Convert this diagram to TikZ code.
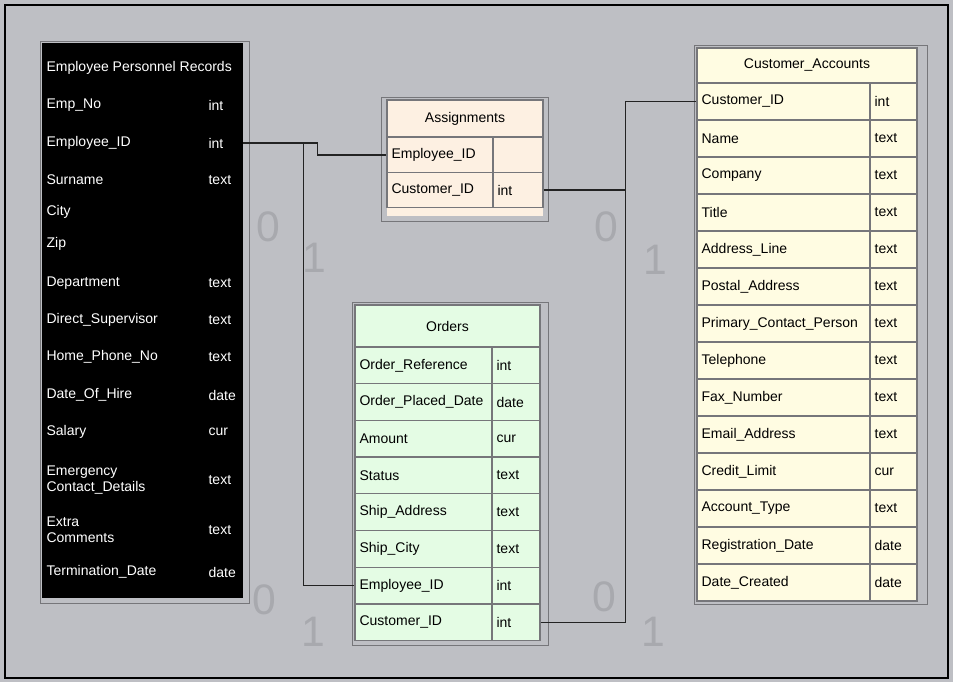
\documentclass[tikz,border=0pt]{standalone}
\usepackage{fontspec}
\setmainfont{Liberation Sans}
\usetikzlibrary{positioning,calc}
\definecolor{cfondo}{RGB}{190,191,196}
\definecolor{cdurazno}{RGB}{253,240,226}
\definecolor{cmenta}{RGB}{228,252,228}
\definecolor{ccrema}{RGB}{255,252,226}
\definecolor{cborde}{RGB}{118,118,122}
\definecolor{clinea}{RGB}{35,35,35}
\definecolor{cfantasma}{RGB}{168,169,174}
\tikzset{
  fila/.style={rectangle, draw=cborde, line width=0.9pt, inner sep=0pt},
  cabecera/.style={rectangle, draw=cborde, line width=0.9pt, inner sep=0pt,
    font=\fontsize{10.5}{12}\selectfont},
  campo/.style={anchor=west, inner sep=1pt, align=left,
    font=\fontsize{10.5}{12}\selectfont},
  campob/.style={campo, text=white},
  divisor/.style={draw=cborde, line width=0.9pt},
  marco/.style={draw=cborde, line width=0.6pt},
  union/.style={draw=clinea, line width=1pt},
  card/.style={font=\fontsize{32}{34}\selectfont, text=cfantasma, inner sep=0pt},
}
\begin{document}
\begin{tikzpicture}[x=0.75pt, y=-0.75pt]
  \useasboundingbox (0,0) rectangle (953,682);
  \fill[cfondo] (0,0) rectangle (953,682);
  \draw[black, line width=1.2pt] (5,5) rectangle (948,678);

  % tabla izquierda (fondo negro)
  \fill[black] (42,43) rectangle (243,598);
  \draw[marco] (40,41) rectangle (249,603);
  \node[campob] (lfcab) at (45,68) {Employee Personnel Records};
  \foreach \nom/\tip/\y [count=\i] in {Emp\_No/int/105, Employee\_ID/int/143,
      Surname/text/180, City//212, Zip//244, Department/text/283,
      Direct\_Supervisor/text/320, Home\_Phone\_No/text/357,
      Date\_Of\_Hire/date/395, Salary/cur/432,
      {Emergency\\Contact\_Details}/text/480, {Extra\\Comments}/text/530,
      Termination\_Date/date/572} {
    \node[minimum width=150.75pt, minimum height=27pt, inner sep=0pt] (lf\i) at (142.5,\y) {};
    \node[campob] (lfn\i) at (45,\y) {\nom};
    \node[campob] (lft\i) at (207,\y) {\tip};
  }

  % tabla central superior
  \fill[cdurazno] (387,100) rectangle (543,216);
  \draw[marco] (381,97) rectangle (548,221);
  \node[cabecera, fill=cdurazno, minimum width=117pt, minimum height=27.75pt] (mtcab) at (465,118.5) {Assignments};
  \foreach \nom/\tip/\y [count=\i] in {Employee\_ID//155, Customer\_ID/int/190} {
    \node[fila, fill=cdurazno, minimum width=117pt, minimum height=26.25pt] (mt\i) at (465,\y) {};
    \node[campo] (mtn\i) at (390,\y) {\nom};
    \node[campo] (mtt\i) at (496,\y) {\tip};
  }
  \draw[divisor] (493,137) -- (493,207.5);

  % tabla central inferior
  \fill[cmenta] (355,305) rectangle (540,641);
  \draw[marco] (352,302) rectangle (548,645);
  \node[cabecera, fill=cmenta, minimum width=138.75pt, minimum height=31.5pt] (mbcab) at (447.5,326) {Orders};
  \foreach \nom/\tip [count=\i] in {Order\_Reference/int, Order\_Placed\_Date/date,
      Amount/cur, Status/text, Ship\_Address/text, Ship\_City/text,
      Employee\_ID/int, Customer\_ID/int} {
    \node[fila, fill=cmenta, minimum width=138.75pt, minimum height=27.5pt] (mb\i) at (447.5,328.65+36.7*\i) {};
    \node[campo] (mbn\i) at (358,328.65+36.7*\i) {\nom};
    \node[campo] (mbt\i) at (495,328.65+36.7*\i) {\tip};
  }
  \draw[divisor] (492,347) -- (492,640.6);

  % tabla derecha
  \fill[ccrema] (697,48) rectangle (917,601);
  \draw[marco] (694,45) rectangle (927,604);
  \node[cabecera, fill=ccrema, minimum width=165pt, minimum height=26.25pt] (rtcab) at (807,65.5) {Customer\_Accounts};
  \foreach \nom/\tip [count=\i] in {Customer\_ID/int, Name/text, Company/text,
      Title/text, Address\_Line/text, Postal\_Address/text,
      Primary\_Contact\_Person/text, Telephone/text, Fax\_Number/text,
      Email\_Address/text, Credit\_Limit/cur, Account\_Type/text,
      Registration\_Date/date, Date\_Created/date} {
    \node[fila, fill=ccrema, minimum width=165pt, minimum height=27.75pt] (rt\i) at (807,64.5+37*\i) {};
    \node[campo] (rtn\i) at (700,64.5+37*\i) {\nom};
    \node[campo] (rtt\i) at (873,64.5+37*\i) {\tip};
  }
  \draw[divisor] (870,83) -- (870,601);

  % relaciones
  \draw[union] (lf2.east) -- ++(74,0) |- (mt1.west);
  \draw[union] (lf2.east) -- ++(60,0) |- (mb7.west);
  \draw[union] (mt2.east) -- ++(82,0) |- (rt1.west);
  \draw[union] (mb8.east) -- ++(85,0) |- (rt1.west);

  % marcas tenues
  \node[card] (k1) at (268,227) {0};
  \node[card] (k2) at (314,258) {1};
  \node[card] (k3) at (606,227) {0};
  \node[card] (k4) at (655,260) {1};
  \node[card] (k5) at (264,600) {0};
  \node[card] (k6) at (313,632) {1};
  \node[card] (k7) at (604,597) {0};
  \node[card] (k8) at (653,632) {1};
\end{tikzpicture}
\end{document}
